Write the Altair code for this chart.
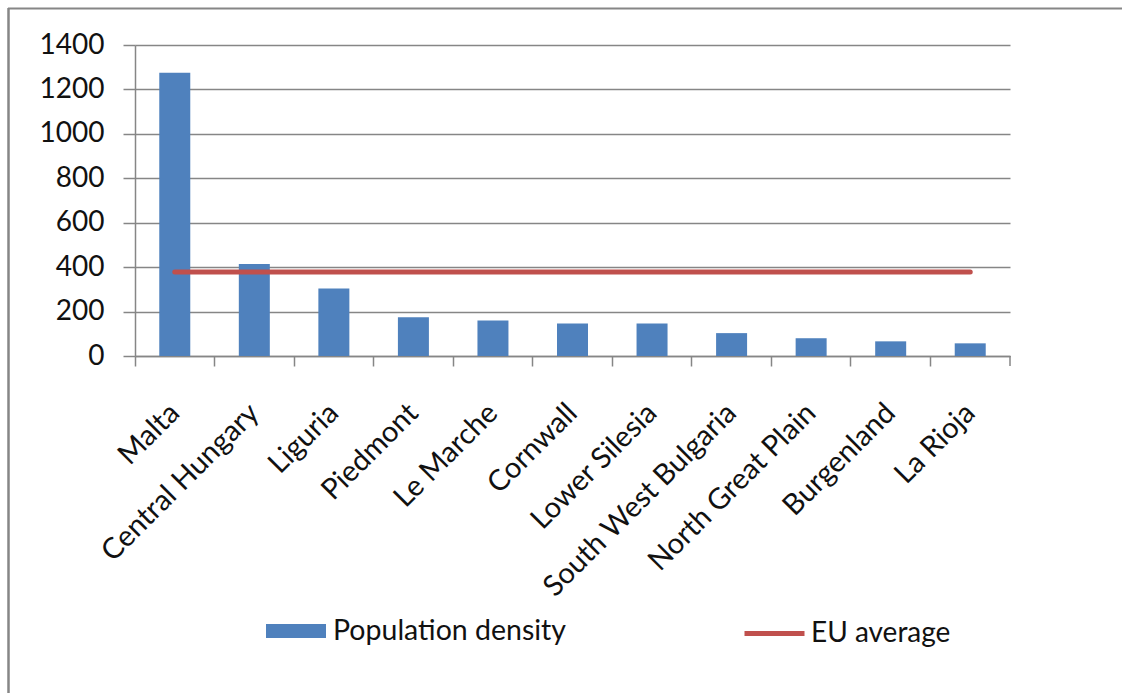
import altair as alt
import pandas as pd

regions = ["Malta", "Central Hungary", "Liguria", "Piedmont", "Le Marche", "Cornwall",
           "Lower Silesia", "South West Bulgaria", "North Great Plain", "Burgenland", "La Rioja"]
density = [1275, 414, 304, 174, 160, 146, 146, 103, 80, 66, 57]
eu_average = 378
y_ticks = [0, 200, 400, 600, 800, 1000, 1200, 1400]

BLUE = "#4F81BD"
RED = "#C0504D"
GREY = "#868686"
FONT = "Lato"

df = pd.DataFrame({"region": regions, "density": density,
                   "eu": [eu_average] * len(regions),
                   "s1": "Population density", "s2": "EU average"})

xenc = alt.X("region:N", sort=regions,
             scale=alt.Scale(paddingInner=0, paddingOuter=0),
             axis=alt.Axis(title=None, bandPosition=0, labelAngle=-45, labelAlign="right",
                           labelBaseline="middle", labelOffset=0, labelPadding=42,
                           labelLimit=0, labelOverlap=False,
                           tickSize=10, tickColor=GREY, tickWidth=1.5,
                           domainColor=GREY, domainWidth=1.5,
                           labelFont=FONT, labelFontSize=29, labelColor="#111111"))

bars = alt.Chart(df).mark_bar(size=31).encode(
    x=xenc,
    y=alt.Y("density:Q", scale=alt.Scale(domain=[0, 1400], nice=False),
            axis=alt.Axis(title=None, values=y_ticks, format="d", tickSize=12, labelPadding=19,
                          tickColor=GREY, tickWidth=1.5, domainColor=GREY, domainWidth=1.5,
                          gridColor=GREY, gridWidth=1.5, grid=True,
                          labelFont=FONT, labelFontSize=28, labelColor="#111111")),
    color=alt.Color("s1:N", scale=alt.Scale(domain=["Population density"], range=[BLUE]),
                    legend=alt.Legend(title=None, orient="none", legendX=131, legendY=556,
                                      symbolType="M-1,-0.23L1,-0.23L1,0.23L-1,0.23Z",
                                      symbolSize=3600, symbolStrokeWidth=0,
                                      labelFont=FONT, labelFontSize=28.5, labelColor="#111111",
                                      labelLimit=0, labelOffset=7, padding=0)),
)

line = alt.Chart(df).mark_line(strokeWidth=5, strokeCap="round").encode(
    x=alt.X("region:N", sort=regions),
    y=alt.Y("eu:Q"),
    stroke=alt.Stroke("s2:N", scale=alt.Scale(domain=["EU average"], range=[RED]),
                      legend=alt.Legend(title=None, orient="none", legendX=607, legendY=556,
                                        symbolType="stroke", symbolSize=3600,
                                        symbolStrokeWidth=5,
                                        labelFont=FONT, labelFontSize=28, labelColor="#111111",
                                        labelLimit=0, labelOffset=4, padding=0)),
)

deco = pd.DataFrame({"k": [0]})
end_tick = alt.Chart(deco).mark_rule(color=GREY, strokeWidth=1.5).encode(
    x=alt.value(875), y=alt.value(311), y2=alt.value(321))
frame_top = alt.Chart(deco).mark_rule(color=GREY, strokeWidth=2).encode(
    x=alt.value(-127), x2=alt.value(990), y=alt.value(-36.5))
frame_left = alt.Chart(deco).mark_rule(color=GREY, strokeWidth=2.5).encode(
    x=alt.value(-126.5), y=alt.value(-37), y2=alt.value(650))

chart = alt.layer(bars, line, end_tick, frame_top, frame_left).properties(
    width=875, height=311,
    autosize=alt.AutoSizeParams(type="none"),
    padding={"left": 135, "top": 45, "right": 112, "bottom": 337},
    background="white",
).configure_view(stroke=None)

chart.save("out.html", embed_options={"renderer": "svg", "actions": False})
